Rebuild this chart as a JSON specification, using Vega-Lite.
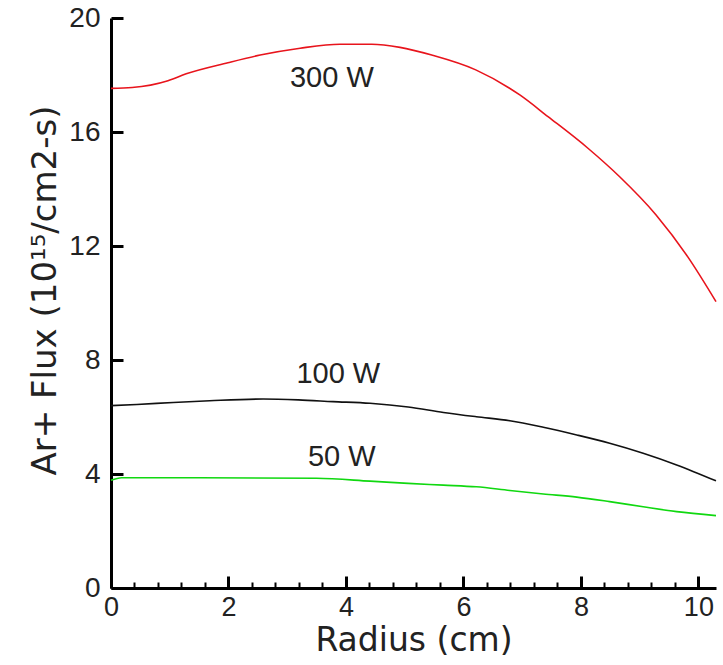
{
  "$schema": "https://vega.github.io/schema/vega-lite/v6.json",
  "width": 605,
  "height": 570,
  "autosize": "none",
  "padding": {"left": 111, "top": 18, "right": 7, "bottom": 77},
  "background": "white",
  "config": {"view": {"stroke": null}},
  "datasets": {
    "curves": [
      {"series": "300 W", "r": 0, "flux": 17.53},
      {"series": "300 W", "r": 0.36, "flux": 17.56},
      {"series": "300 W", "r": 0.97, "flux": 17.8},
      {"series": "300 W", "r": 1.28, "flux": 18.04},
      {"series": "300 W", "r": 1.99, "flux": 18.43},
      {"series": "300 W", "r": 2.54, "flux": 18.70},
      {"series": "300 W", "r": 3.22, "flux": 18.94},
      {"series": "300 W", "r": 3.9, "flux": 19.08},
      {"series": "300 W", "r": 4.44, "flux": 19.08},
      {"series": "300 W", "r": 4.92, "flux": 18.97},
      {"series": "300 W", "r": 5.46, "flux": 18.70},
      {"series": "300 W", "r": 6.21, "flux": 18.18},
      {"series": "300 W", "r": 6.96, "flux": 17.30},
      {"series": "300 W", "r": 7.44, "flux": 16.54},
      {"series": "300 W", "r": 8.12, "flux": 15.43},
      {"series": "300 W", "r": 8.66, "flux": 14.43},
      {"series": "300 W", "r": 9.28, "flux": 13.09},
      {"series": "300 W", "r": 9.82, "flux": 11.62},
      {"series": "300 W", "r": 10.3, "flux": 10.05},
      {"series": "100 W", "r": 0, "flux": 6.40},
      {"series": "100 W", "r": 0.44, "flux": 6.44},
      {"series": "100 W", "r": 1.06, "flux": 6.51},
      {"series": "100 W", "r": 1.68, "flux": 6.57},
      {"series": "100 W", "r": 2.59, "flux": 6.63},
      {"series": "100 W", "r": 3.19, "flux": 6.60},
      {"series": "100 W", "r": 3.78, "flux": 6.54},
      {"series": "100 W", "r": 4.41, "flux": 6.48},
      {"series": "100 W", "r": 5.06, "flux": 6.35},
      {"series": "100 W", "r": 5.66, "flux": 6.16},
      {"series": "100 W", "r": 6.22, "flux": 6.01},
      {"series": "100 W", "r": 6.79, "flux": 5.87},
      {"series": "100 W", "r": 7.36, "flux": 5.64},
      {"series": "100 W", "r": 7.93, "flux": 5.37},
      {"series": "100 W", "r": 8.49, "flux": 5.08},
      {"series": "100 W", "r": 9.06, "flux": 4.73},
      {"series": "100 W", "r": 9.63, "flux": 4.32},
      {"series": "100 W", "r": 10.3, "flux": 3.76},
      {"series": "50 W", "r": 0, "flux": 3.78},
      {"series": "50 W", "r": 0.18, "flux": 3.87},
      {"series": "50 W", "r": 1.5, "flux": 3.87},
      {"series": "50 W", "r": 3.5, "flux": 3.85},
      {"series": "50 W", "r": 4.41, "flux": 3.75},
      {"series": "50 W", "r": 5.06, "flux": 3.67},
      {"series": "50 W", "r": 5.66, "flux": 3.61},
      {"series": "50 W", "r": 6.22, "flux": 3.55},
      {"series": "50 W", "r": 6.79, "flux": 3.42},
      {"series": "50 W", "r": 7.36, "flux": 3.30},
      {"series": "50 W", "r": 7.93, "flux": 3.19},
      {"series": "50 W", "r": 8.49, "flux": 3.03},
      {"series": "50 W", "r": 9.06, "flux": 2.85},
      {"series": "50 W", "r": 9.63, "flux": 2.68},
      {"series": "50 W", "r": 10.3, "flux": 2.54}
    ],
    "labels": [
      {"text": "300 W", "r": 3.76, "flux": 17.9},
      {"text": "100 W", "r": 3.87, "flux": 7.5},
      {"text": "50 W", "r": 3.93, "flux": 4.6}
    ]
  },
  "resolve": {"axis": {"x": "independent"}},
  "encoding": {
    "y": {
      "field": "flux",
      "type": "quantitative",
      "scale": {"domain": [0, 20], "nice": false, "zero": false},
      "axis": {
        "title": "Ar+ Flux (10¹⁵/cm2-s)",
        "values": [0, 4, 8, 12, 16, 20],
        "grid": false,
        "domainColor": "#000",
        "domainWidth": 3,
        "tickColor": "#000",
        "tickSize": -12,
        "tickWidth": 3,
        "labelFont": "Liberation Sans",
        "labelFontSize": 28,
        "labelColor": "#222",
        "labelPadding": 23,
        "labelFlush": false,
        "labelOverlap": false,
        "labelBound": false,
        "titleFont": "DejaVu Sans",
        "titleFontSize": 34,
        "titleFontWeight": "normal",
        "titleColor": "#222",
        "titleBaseline": "alphabetic",
        "titleAlign": "center",
        "titleAngle": -90,
        "titleX": -56,
        "titleY": 272
      }
    }
  },
  "layer": [
    {
      "data": {"name": "curves"},
      "mark": {"type": "line", "strokeWidth": 1.6, "interpolate": "monotone"},
      "encoding": {
        "x": {
          "field": "r",
          "type": "quantitative",
          "scale": {"domain": [0, 10.3], "nice": false, "zero": false},
          "axis": {
            "orient": "bottom",
            "title": "Radius (cm)",
            "values": [0, 2, 4, 6, 8, 10],
            "format": ".0f",
            "grid": false,
            "domainColor": "#000",
            "domainWidth": 3,
            "tickColor": "#000",
            "tickSize": -12,
            "tickWidth": 3,
            "labelFont": "Liberation Sans",
            "labelFontSize": 27,
            "labelColor": "#222",
            "labelPadding": 18,
            "labelBaseline": "top",
            "labelFlush": false,
            "labelOverlap": false,
            "labelBound": false,
            "titleFont": "DejaVu Sans",
            "titleFontSize": 33,
            "titleFontWeight": "normal",
            "titleColor": "#222",
            "titleBaseline": "alphabetic",
            "titleY": 62
          }
        },
        "color": {
          "field": "series",
          "type": "nominal",
          "scale": {"domain": ["300 W", "100 W", "50 W"], "range": ["#e8141c", "#111111", "#10d810"]},
          "legend": null
        },
        "detail": {"field": "series"}
      }
    },
    {
      "data": {"name": "labels"},
      "mark": {"type": "text", "font": "Liberation Sans", "fontSize": 29, "color": "#222", "align": "center", "baseline": "middle"},
      "encoding": {
        "x": {
          "field": "r",
          "type": "quantitative",
          "scale": {"domain": [0, 10.3], "nice": false, "zero": false},
          "axis": {
            "orient": "bottom",
            "title": null,
            "values": [0.4, 0.8, 1.2, 1.6, 2.4, 2.8, 3.2, 3.6, 4.4, 4.8, 5.2, 5.6, 6.4, 6.8, 7.2, 7.6, 8.4, 8.8, 9.2, 9.6],
            "labels": false,
            "domain": false,
            "grid": false,
            "tickColor": "#000",
            "tickSize": -6,
            "tickWidth": 2
          }
        },
        "text": {"field": "text"}
      }
    }
  ]
}
